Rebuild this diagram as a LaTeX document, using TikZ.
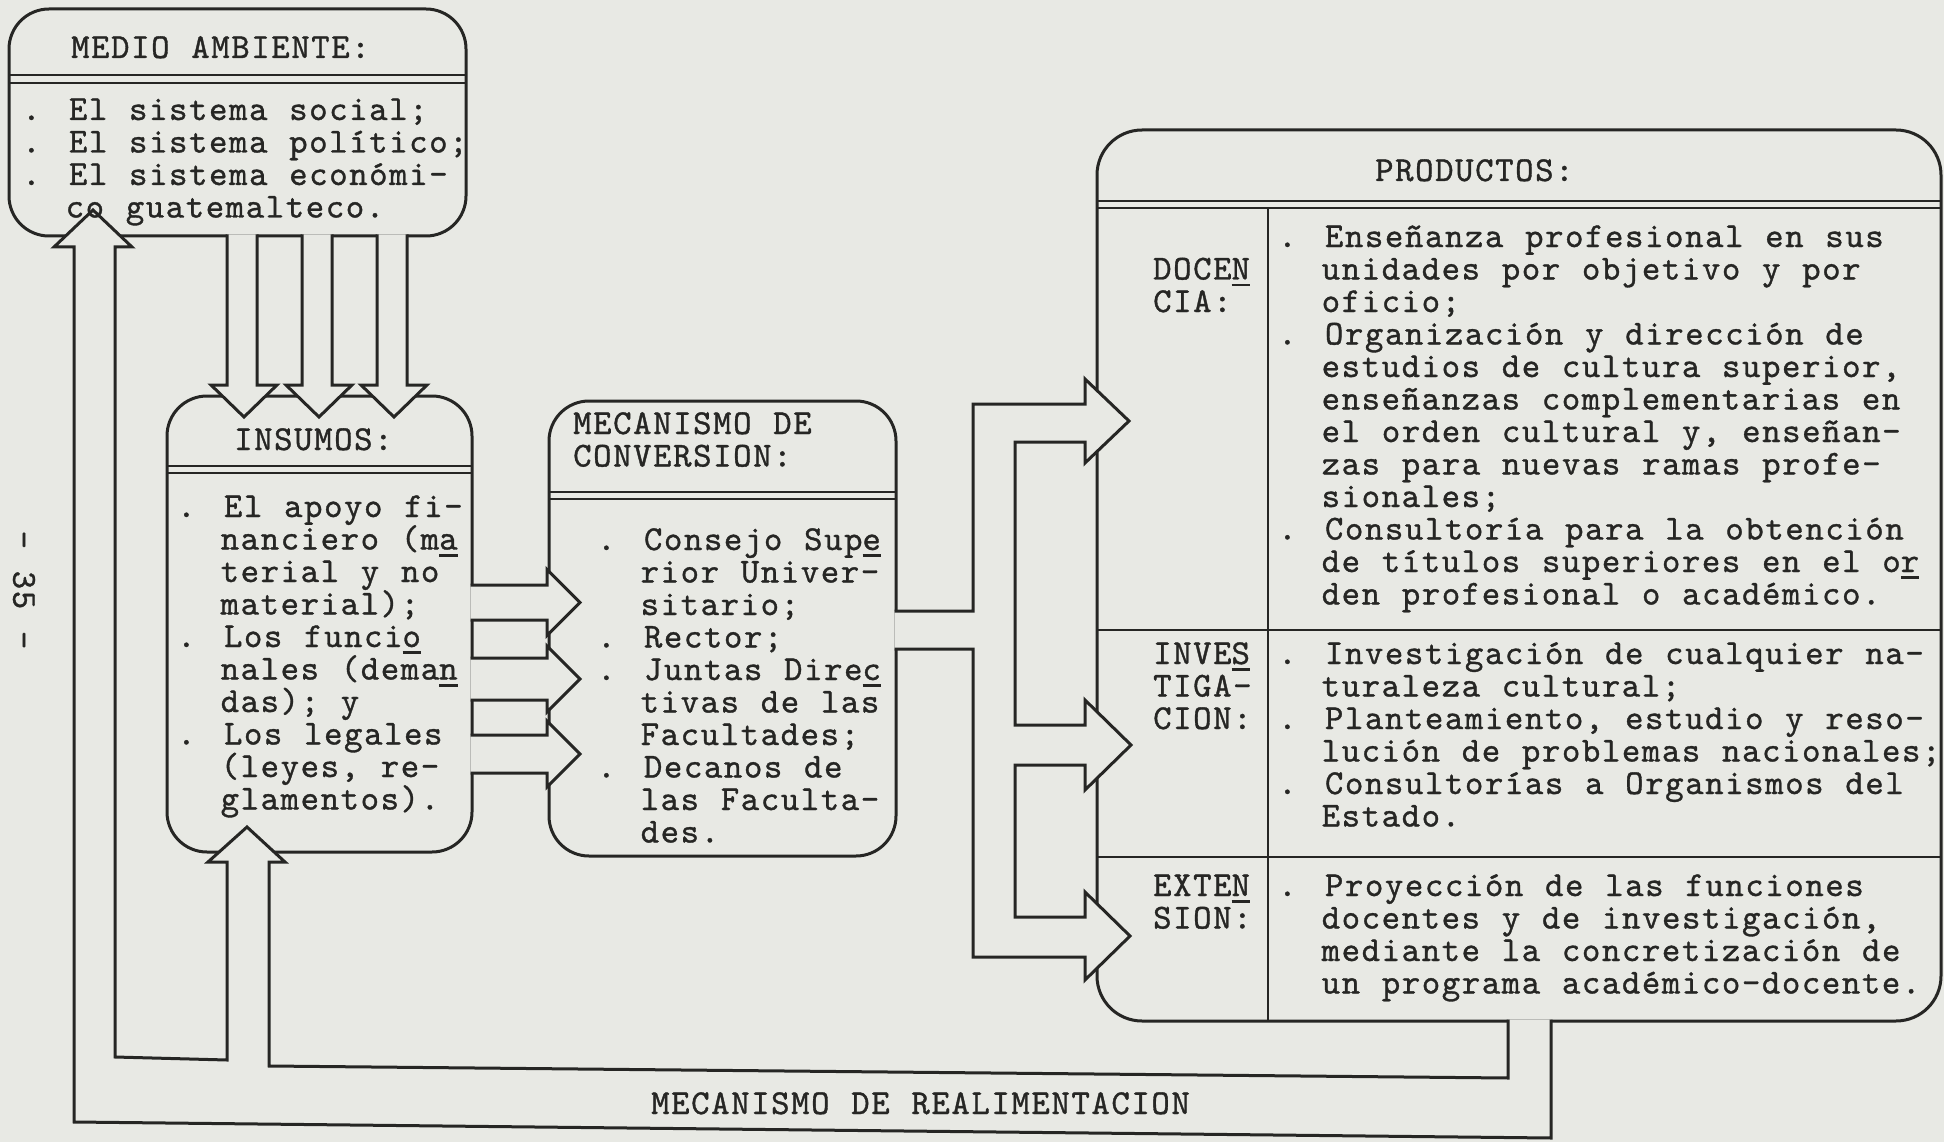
\documentclass[tikz,border=0pt]{standalone}
\usepackage{fontspec}
\newfontfamily\tw{lmmono10-regular.otf}[LetterSpace=4.64, WordSpace=1.088, FakeBold=1]
\definecolor{paper}{RGB}{232,233,228}
\definecolor{ink}{RGB}{38,38,36}
\newsavebox\ulbox
\newcommand\ulc[1]{\sbox\ulbox{#1}\rlap{\rule[-7pt]{\wd\ulbox}{2.8pt}}\usebox\ulbox}
\begin{document}
\begin{tikzpicture}[x=1pt,y=-1pt,
  box/.style={draw=ink, line width=3pt, rounded corners=#1, rectangle,
    inner sep=0pt, outer sep=0pt, anchor=north west},
  blk/.style={draw=ink, line width=3pt, fill=paper, line join=miter},
  ln/.style={draw=ink, line width=2.6pt},
  txt/.style={anchor=base west, align=left, inner sep=0pt, text=ink,
    font=\tw\fontsize{35}{32.5}\selectfont}]
\useasboundingbox[fill=paper] (0,0) rectangle (1944,1142);

% boxes
\node[box=40pt, minimum width=457pt, minimum height=227pt] (medio) at (9,9) {};
\node[box=40pt, minimum width=305pt, minimum height=456pt] (insumos) at (167,396) {};
\node[box=40pt, minimum width=347pt, minimum height=455pt] (conversion) at (549,401) {};
\node[box=45pt, minimum width=844pt, minimum height=891pt] (productos) at (1097,130) {};

% medio -> insumos
\foreach \c in {242,317,392}
  \path[blk] (\c-15,234.5) -- (\c-15,385) -- (\c-31,385) -- (\c+2,417)
    -- (\c+35,385) -- (\c+15,385) -- (\c+15,234.5);

% insumos -> conversion
\foreach \a/\b in {585/620,658/700,735/773}
  \path[blk] (470.5,\a) -- (547,\a) -- (547,{(\a+\b)/2-33}) -- (580,{(\a+\b)/2})
    -- (547,{(\a+\b)/2+33}) -- (547,\b) -- (470.5,\b);

% conversion -> productos
\path[blk] (894.5,611) -- (973,611) -- (973,404) -- (1085,404) -- (1085,379)
  -- (1129,421) -- (1085,463) -- (1085,442) -- (1015,442) -- (1015,725)
  -- (1085,725) -- (1085,700) -- (1131,745) -- (1085,790) -- (1085,765)
  -- (1015,765) -- (1015,917) -- (1085,917) -- (1085,892) -- (1130,936)
  -- (1085,980) -- (1085,957) -- (973,957) -- (973,649) -- (894.5,649);

% realimentacion
\path[blk] (1551,1019.5) -- (1551,1138) -- (74,1122) -- (74,247) -- (54,247)
  -- (93,210) -- (132,247) -- (115,247) -- (115,1057) -- (227,1060)
  -- (227,862) -- (208,862) -- (247,827) -- (285,862) -- (269,862)
  -- (269,1066) -- (1508,1078) -- (1508,1019.5);

% double lines and dividers
\draw[ln] (9,75) -- (466,75);   \draw[ln] (9,83) -- (466,83);
\draw[ln] (167,466) -- (472,466); \draw[ln] (167,473) -- (472,473);
\draw[ln] (549,492) -- (896,492); \draw[ln] (549,499) -- (896,499);
\draw[ln] (1097,201) -- (1941,201); \draw[ln] (1097,208) -- (1941,208);
\draw[ln] (1268,208) -- (1268,1021);
\draw[ln] (1097,630) -- (1941,630);
\draw[ln] (1097,857) -- (1941,857);

% texts (anchor = baseline of the last line)
\node[txt] (tmedio) at (71,58) {MEDIO AMBIENTE:};
\node[txt] (lmedio) at (22,217.5) {. El sistema social;\\. El sistema político;\\. El sistema económi-\\~~co guatemalteco.};
\node[txt] (tinsumos) at (234,450) {INSUMOS:};
\node[txt] (linsumos) at (177,809.5) {. El apoyo fi-\\~~nanciero (m\ulc{a}\\~~terial y no\\~~material);\\. Los funci\ulc{o}\\~~nales (dema\ulc{n}\\~~das); y\\. Los legales\\~~(leyes, re-\\~~glamentos).};
\node[txt] (tconv) at (573,466.5) {MECANISMO DE\\CONVERSION:};
\node[txt] (lconv) at (597,842.5) {. Consejo Sup\ulc{e}\\~~rior Univer-\\~~sitario;\\. Rector;\\. Juntas Dire\ulc{c}\\~~tivas de las\\~~Facultades;\\. Decanos de\\~~las Faculta-\\~~des.};
\node[txt] (tprod) at (1375,181) {PRODUCTOS:};
\node[txt] (tdoc) at (1153,312) {DOCE\ulc{N}\\CIA:};
\node[txt] (ldoc) at (1278,604.5) {. Enseñanza profesional en sus\\~~unidades por objetivo y por\\~~oficio;\\. Organización y dirección de\\~~estudios de cultura superior,\\~~enseñanzas complementarias en\\~~el orden cultural y, enseñan-\\~~zas para nuevas ramas profe-\\~~sionales;\\. Consultoría para la obtención\\~~de títulos superiores en el o\ulc{r}\\~~den profesional o académico.};
\node[txt] (tinv) at (1153,729) {INVE\ulc{S}\\TIGA-\\CION:};
\node[txt] (linv) at (1278,826.5) {. Investigación de cualquier na-\\~~turaleza cultural;\\. Planteamiento, estudio y reso-\\~~lución de problemas nacionales;\\. Consultorías a Organismos del\\~~Estado.};
\node[txt] (text) at (1153,928.5) {EXTE\ulc{N}\\SION:};
\node[txt] (lext) at (1278,993.5) {. Proyección de las funciones\\~~docentes y de investigación,\\~~mediante la concretización de\\~~un programa académico-docente.};
\node[txt] (realim) at (651,1114) {MECANISMO DE REALIMENTACION};
\node[txt, anchor=center, rotate=-90] (pag) at (24,590) {- 35 -};
\end{tikzpicture}
\end{document}
